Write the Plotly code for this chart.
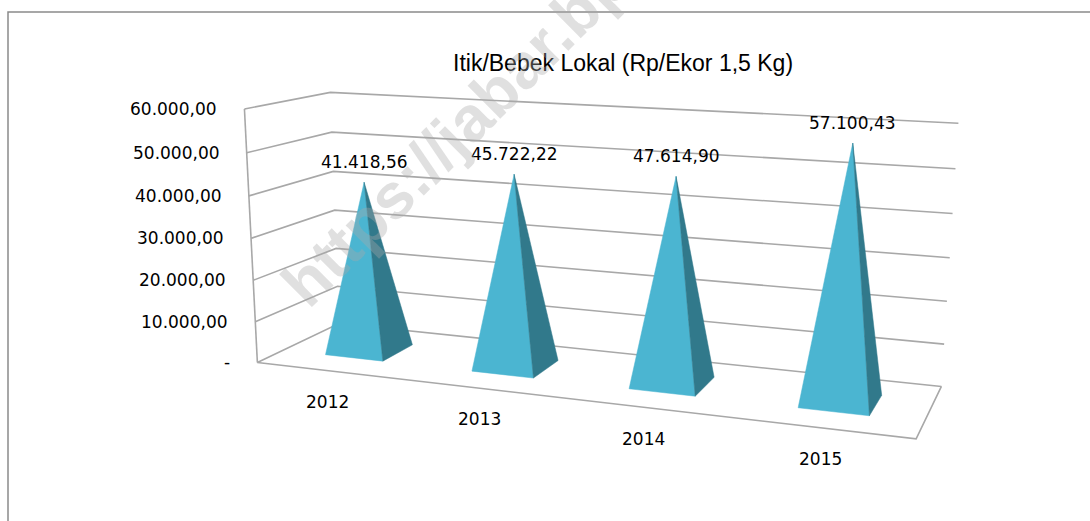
import numpy as np
import plotly.graph_objects as go

# ---------------- data ----------------
years = ["2012", "2013", "2014", "2015"]
prices = [41418.56, 45722.22, 47614.90, 57100.43]
y_ticks = [0, 10000, 20000, 30000, 40000, 50000, 60000]
y_max = 60000
title_text = "Itik/Bebek Lokal (Rp/Ekor 1,5 Kg)"
watermark_text = "https://jabar.bps.go.id"


def fmt_id(v):
    """Indonesian number format: 41.418,56 ; zero shown as '-'."""
    if v == 0:
        return "-"
    s = f"{v:,.2f}"
    return s.replace(",", "X").replace(".", ",").replace("X", ".")


# ---------------- 3-D view (perspective camera fitted to the chart box) ----------------
W, H = 1090, 521
n = len(years)
# box corners (category units, value fraction, depth fraction) -> screen pixels
BOX_3D = [(0, 0, 0), (0, 1, 0), (0, 1, 1), (0, 0, 1), (n, 1, 1), (n, 0, 1), (n, 0, 0)]
BOX_2D = [(258, 356), (243, 112), (332, 89), (338, 330), (958, 124), (941, 382), (917, 443)]

A = []
for (X, Y, Z), (u, v) in zip(BOX_3D, BOX_2D):
    u, v = u / 1000.0, v / 1000.0
    A.append([X, Y, Z, 1, 0, 0, 0, 0, -u * X, -u * Y, -u * Z, -u])
    A.append([0, 0, 0, 0, X, Y, Z, 1, -v * X, -v * Y, -v * Z, -v])
_, _, Vt = np.linalg.svd(np.array(A, dtype=float))
P = Vt[-1].reshape(3, 4)


def proj(X, val, Z):
    h = P @ np.array([X, val / y_max, Z, 1.0])
    return h[0] / h[2] * 1000.0, h[1] / h[2] * 1000.0


GRID = "#a8a8a8"
LIGHT = "#4bb5d1"
DARK = "#31798b"
LABEL_FONT = dict(family="DejaVu Sans", size=17, color="#000000")

fig = go.Figure()

# gridlines: side wall + back wall
gx, gy = [], []
for t in y_ticks:
    for pt in (proj(0, t, 0), proj(0, t, 1), proj(n, t, 1)):
        gx.append(pt[0]); gy.append(pt[1])
    gx.append(None); gy.append(None)
# front-left vertical edge
for pt in (proj(0, 0, 0), proj(0, y_max, 0)):
    gx.append(pt[0]); gy.append(pt[1])
gx.append(None); gy.append(None)
# floor front and right edges
for pt in (proj(0, 0, 0), proj(n, 0, 0), proj(n, 0, 1)):
    gx.append(pt[0]); gy.append(pt[1])
fig.add_trace(go.Scatter(x=gx, y=gy, mode="lines", line=dict(color=GRID, width=1.6),
                         hoverinfo="skip"))

# pyramids
hw, z0, z1 = 0.2, 0.3, 0.7
zc = 0.5 * (z0 + z1)
annotations = []
for i, (yr, val) in enumerate(zip(years, prices)):
    c = i + 0.5
    FL = proj(c - hw, 0, z0)
    FR = proj(c + hw, 0, z0)
    BR = proj(c + hw, 0, z1)
    AP = proj(c, val, zc)
    fig.add_trace(go.Scatter(x=[FL[0], FR[0], AP[0], FL[0]], y=[FL[1], FR[1], AP[1], FL[1]],
                             mode="lines", fill="toself", fillcolor=LIGHT,
                             line=dict(width=0.5, color=LIGHT), hoverinfo="skip"))
    fig.add_trace(go.Scatter(x=[FR[0], BR[0], AP[0], FR[0]], y=[FR[1], BR[1], AP[1], FR[1]],
                             mode="lines", fill="toself", fillcolor=DARK,
                             line=dict(width=0.5, color=DARK), hoverinfo="skip"))
    # value label
    annotations.append(dict(x=AP[0], y=AP[1], xref="x", yref="y", text=fmt_id(val),
                            showarrow=False, yshift=20, font=LABEL_FONT,
                            xanchor="center", yanchor="middle"))
    # category label
    CP = proj(c, 0, 0)
    annotations.append(dict(x=CP[0], y=CP[1], xref="x", yref="y", text=yr,
                            showarrow=False, yshift=-31, xshift=-2, font=LABEL_FONT,
                            xanchor="center", yanchor="middle"))

# value axis labels
for t in y_ticks:
    p = proj(0, t, 0)
    annotations.append(dict(x=p[0], y=p[1], xref="x", yref="y", text=fmt_id(t),
                            showarrow=False, xshift=-25, font=LABEL_FONT,
                            xanchor="right", yanchor="middle"))

# title
annotations.append(dict(x=623, y=63, xref="x", yref="y", text=title_text, showarrow=False,
                        font=dict(family="Liberation Sans, Arial", size=23, color="#000000"),
                        xanchor="center", yanchor="middle"))

# watermark
annotations.append(dict(x=528, y=60, xref="x", yref="y", text="<b>" + watermark_text + "</b>",
                        showarrow=False, textangle=-45,
                        font=dict(family="Liberation Sans, Arial", size=64,
                                  color="rgba(170,170,170,0.36)"),
                        xanchor="center", yanchor="middle"))

fig.update_layout(
    width=W, height=H,
    margin=dict(l=0, r=0, t=0, b=0),
    paper_bgcolor="white", plot_bgcolor="white",
    showlegend=False,
    xaxis=dict(range=[0, W], visible=False, fixedrange=True),
    yaxis=dict(range=[H, 0], visible=False, fixedrange=True),
    annotations=annotations,
    shapes=[dict(type="rect", xref="x", yref="y", x0=8, y0=12, x1=W + 20, y1=H + 20,
                 line=dict(color="#8a8a8a", width=1.5), fillcolor="rgba(0,0,0,0)",
                 layer="below")],
)

fig.write_html("out.html", config={"displayModeBar": False},
               post_script="document.body.style.margin='0px';")
